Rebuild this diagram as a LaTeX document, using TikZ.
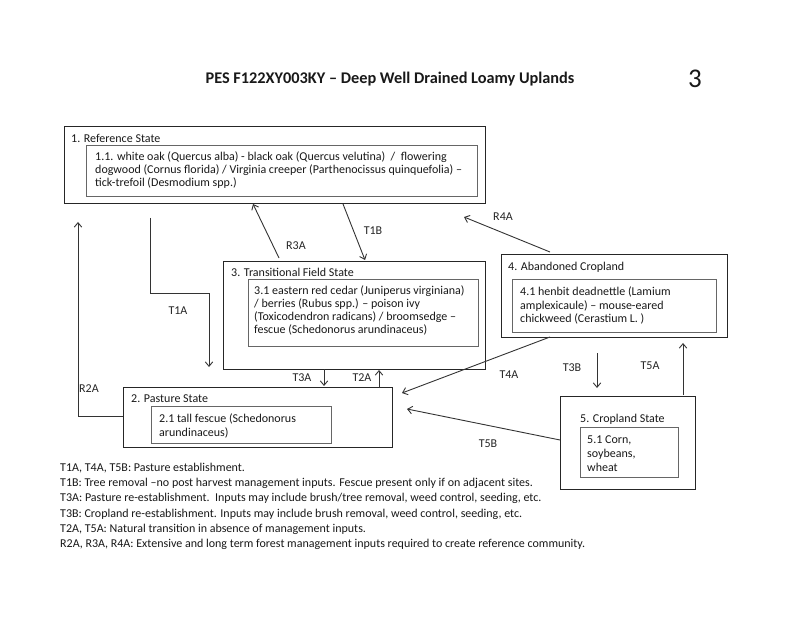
\documentclass[tikz,border=0pt]{standalone}
\usepackage{fontspec}
\setmainfont{Carlito}
\usetikzlibrary{arrows.meta,calc}
\begin{document}
\begin{tikzpicture}[x=1pt,y=-1pt,
  outerbox/.style={draw=black!85, line width=1.3pt, inner sep=0pt, anchor=north west},
  innerbox/.style={draw=black!60, line width=0.8pt, inner sep=0pt, anchor=north west},
  arr/.style={draw=black!80, line width=0.9pt, -{Straight Barb[length=4.5pt,width=7.5pt]}},
  boxlabel/.style={anchor=west, inner sep=0pt, text=black!90, font=\fontsize{12}{12.5}\selectfont},
  boxtext/.style={anchor=west, inner sep=0pt, align=left, text=black!90, font=\fontsize{12}{13}\selectfont},
  arrlabel/.style={inner sep=0pt, text=black!85, font=\fontsize{12}{12}\selectfont},
]
\fill[white] (0,0) rectangle (800,617);
\useasboundingbox (0,0) rectangle (800,617);

% title
\node[font=\bfseries\fontsize{16.3}{18}\selectfont, text=black!90] (title) at (390,79) {PES F122XY003KY – Deep Well Drained Loamy Uplands};
\node[font=\fontsize{27}{30}\selectfont, text=black!90] (pagenum) at (695,79) {3};

% 1. Reference State
\node[outerbox, minimum width=421pt, minimum height=77pt] (ref) at (64,126) {};
\node[boxlabel] (refl) at (71,138) {1. Reference State};
\node[innerbox, minimum width=391pt, minimum height=51pt] (refin) at (86,145) {};
\node[boxtext] (reft) at (95,170.5) {1.1. white oak (Quercus alba) - black oak (Quercus velutina)\ \ /\ \ flowering\\dogwood (Cornus florida) / Virginia creeper (Parthenocissus quinquefolia) –\\tick-trefoil (Desmodium spp.)};

% 3. Transitional Field State
\node[outerbox, minimum width=262pt, minimum height=108pt] (trans) at (223,261) {};
\node[boxlabel] (transl) at (231,272) {3. Transitional Field State};
\node[innerbox, minimum width=230pt, minimum height=67pt] (transin) at (248,279) {};
\node[boxtext] (transt) at (254,310.5) {3.1 eastern red cedar (Juniperus virginiana)\\/ berries (Rubus spp.) – poison ivy\\(Toxicodendron radicans) / broomsedge –\\fescue (Schedonorus arundinaceus)};

% 4. Abandoned Cropland
\node[outerbox, minimum width=226pt, minimum height=83pt] (aband) at (501,254) {};
\node[boxlabel] (abandl) at (508,267) {4. Abandoned Cropland};
\node[innerbox, minimum width=204pt, minimum height=53pt] (abandin) at (512,279) {};
\node[boxtext, font=\fontsize{12}{13.4}\selectfont] (abandt) at (520,305.5) {4.1 henbit deadnettle (Lamium\\amplexicaule) – mouse-eared\\chickweed (Cerastium L. )};

% 2. Pasture State
\node[outerbox, minimum width=269pt, minimum height=60pt] (past) at (123,387) {};
\node[boxlabel] (pastl) at (131,399) {2. Pasture State};
\node[innerbox, minimum width=180pt, minimum height=37pt] (pastin) at (151,406) {};
\node[boxtext, font=\fontsize{12}{14}\selectfont] (pastt) at (159,426) {2.1 tall fescue (Schedonorus\\arundinaceus)};

% 5. Cropland State
\node[outerbox, minimum width=135pt, minimum height=93pt] (crop) at (560,396) {};
\node[boxlabel] (cropl) at (580,419) {5. Cropland State};
\node[innerbox, minimum width=98pt, minimum height=50pt] (cropin) at (580,427) {};
\node[boxtext, font=\fontsize{12}{14}\selectfont] (cropt) at (587,453.5) {5.1 Corn,\\soybeans,\\wheat};

% free ends of connectors
\coordinate (t1aS) at (150,218);
\coordinate (t1aK) at (209,293);
\coordinate (t1aE) at (209,367);
\coordinate (r2aE) at (78,222);
\coordinate (r3aS) at (279,258);
\coordinate (r3aE) at (253,204);
\coordinate (t1bS) at (343,204);
\coordinate (t1bE) at (365,260);
\coordinate (r4aS) at (550,252);
\coordinate (r4aE) at (464,217);
\coordinate (t3aS) at (324,369);
\coordinate (t3aE) at (324,386);
\coordinate (t2aS) at (379,388);
\coordinate (t2aE) at (379,370);
\coordinate (t4aS) at (550,337);
\coordinate (t4aE) at (402,393);
\coordinate (t3bS) at (597,353);
\coordinate (t3bE) at (597,388);
\coordinate (t5aS) at (683,395);
\coordinate (t5aE) at (683,343);
\coordinate (t5bS) at (560,440);
\coordinate (t5bE) at (407,409);

% connectors
\draw[arr] (t1aS) |- (t1aK) -- (t1aE);
\draw[arr] (past.west |- 0,416) -| (r2aE);
\draw[arr] (r3aS) -- (r3aE);
\draw[arr] (t1bS) -- (t1bE);
\draw[arr] (r4aS) -- (r4aE);
\draw[arr] (t3aS) -- (t3aE);
\draw[arr] (t2aS) -- (t2aE);
\draw[arr] (t4aS) -- (t4aE);
\draw[arr] (t3bS) -- (t3bE);
\draw[arr] (t5aS) -- (t5aE);
\draw[arr] (t5bS) -- (t5bE);

% connector labels
\node[arrlabel] (lT1A) at (178,311) {T1A};
\node[arrlabel] (lR2A) at (89,389) {R2A};
\node[arrlabel] (lR3A) at (296,246) {R3A};
\node[arrlabel] (lT1B) at (373,231) {T1B};
\node[arrlabel] (lR4A) at (503,217) {R4A};
\node[arrlabel] (lT3A) at (302,378) {T3A};
\node[arrlabel] (lT2A) at (362,378) {T2A};
\node[arrlabel] (lT4A) at (509,375) {T4A};
\node[arrlabel] (lT3B) at (572,368) {T3B};
\node[arrlabel] (lT5A) at (650,366) {T5A};
\node[arrlabel] (lT5B) at (488,444) {T5B};

% legend
\node[anchor=north west, inner sep=0pt, align=left, text=black!90, font=\fontsize{12}{15.2}\selectfont] (legend) at (60,463) {T1A, T4A, T5B: Pasture establishment.\\T1B: Tree removal –no post harvest management inputs. Fescue present only if on adjacent sites.\\T3A: Pasture re-establishment.\ \ Inputs may include brush/tree removal, weed control, seeding, etc.\\T3B: Cropland re-establishment. Inputs may include brush removal, weed control, seeding, etc.\\T2A, T5A: Natural transition in absence of management inputs.\\R2A, R3A, R4A: Extensive and long term forest management inputs required to create reference community.};
\end{tikzpicture}
\end{document}
